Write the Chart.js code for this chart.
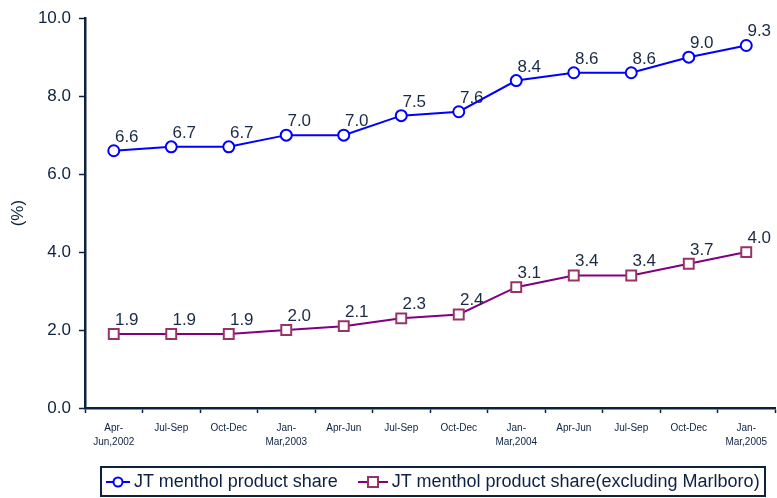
<!DOCTYPE html>
<html>
<head>
<meta charset="utf-8">
<script src="https://cdn.jsdelivr.net/npm/chart.js@4/dist/chart.umd.min.js"></script>
<style>
body{margin:0;background:#fff;font-family:Arial,"Liberation Sans",sans-serif;}
#caja{position:relative;width:777px;height:498px;overflow:hidden;}
#leyenda{position:absolute;left:100px;top:466px;width:666px;height:31px;border:2px solid #0d2240;white-space:nowrap;
  font-size:18px;color:#0d2240;display:flex;align-items:center;padding-left:4px;box-sizing:border-box;}
#leyenda span{margin-right:20px;display:flex;align-items:center;white-space:nowrap;flex:none;}
#leyenda svg{margin-right:4px;flex:none;}
</style>
</head>
<body>
<div id="caja">
<canvas id="myChart" width="784" height="498"></canvas>
<div id="leyenda">
  <span><svg width="24" height="14"><line x1="0" y1="7" x2="24" y2="7" stroke="#0000ff" stroke-width="2"/><circle cx="12" cy="7" r="4.5" fill="#fff" stroke="#0000ff" stroke-width="2"/></svg>JT menthol product share</span>
  <span><svg width="30" height="14"><line x1="0" y1="7" x2="30" y2="7" stroke="#800080" stroke-width="2"/><rect x="10" y="2" width="10" height="10" fill="#fff" stroke="#993366" stroke-width="2"/></svg>JT menthol product share(excluding Marlboro)</span>
</div>
</div>
<script>
const trimestres=[['Apr-','Jun,2002'],'Jul-Sep','Oct-Dec',['Jan-','Mar,2003'],'Apr-Jun','Jul-Sep','Oct-Dec',['Jan-','Mar,2004'],'Apr-Jun','Jul-Sep','Oct-Dec',['Jan-','Mar,2005']];
const cuotaJT=[6.6,6.7,6.7,7.0,7.0,7.5,7.6,8.4,8.6,8.6,9.0,9.3];
const cuotaSinMarlboro=[1.9,1.9,1.9,2.0,2.1,2.3,2.4,3.1,3.4,3.4,3.7,4.0];
const ticksY=[0,2,4,6,8,10];

const colorEje='#0d2240';
const fuente='Arial, "Liberation Sans", sans-serif';

const etiquetas={
    id:'etiquetas',
    afterDatasetsDraw(chart){
        const ctx=chart.ctx;
        ctx.save();
        ctx.font='17px '+fuente;
        ctx.fillStyle='#1a2a44';
        ctx.textAlign='center';
        ctx.textBaseline='alphabetic';
        chart.data.datasets.forEach((ds,i)=>{
            chart.getDatasetMeta(i).data.forEach((p,j)=>{
                ctx.fillText(ds.data[j].toFixed(1),p.x+13,p.y-9);
            });
        });
        ctx.restore();
    }
};

const data={
    labels: trimestres,
    datasets:[{
        label:'JT menthol product share',
        data:cuotaJT,
        borderColor:'#0000ff',
        borderWidth:2,
        pointStyle:'circle',
        pointRadius:5.5,
        pointBorderWidth:2,
        pointBackgroundColor:'#fff',
        pointBorderColor:'#0000ff',
        tension:0
    },{
        label:'JT menthol product share(excluding Marlboro)',
        data:cuotaSinMarlboro,
        borderColor:'#800080',
        borderWidth:2,
        pointStyle:'rect',
        pointRadius:7,
        pointBorderWidth:2,
        pointBackgroundColor:'#fff',
        pointBorderColor:'#993366',
        tension:0
    }]
};

const config={
    type:'line',
    data,
    options:{
        responsive:false,
        animation:false,
        layout:{padding:{top:11,right:2,left:0,bottom:40}},
        plugins:{legend:{display:false},tooltip:{enabled:false}},
        scales:{
            x:{
                offset:true,
                grid:{display:true,drawOnChartArea:false,offset:true,color:colorEje,tickLength:5,tickWidth:1.5},
                border:{color:colorEje,width:2.5},
                ticks:{color:colorEje,font:{size:10,family:fuente,lineHeight:1.4},maxRotation:0,autoSkip:false,padding:8},
                afterFit(s){s.height=50;}
            },
            y:{
                min:0,max:10,
                afterBuildTicks(s){s.ticks=ticksY.map(v=>({value:v}));},
                grid:{display:true,drawOnChartArea:false,color:colorEje,tickLength:6,tickWidth:1.5},
                border:{color:colorEje,width:2.5},
                ticks:{color:colorEje,font:{size:17,family:fuente},padding:8,callback:v=>v.toFixed(1)},
                title:{display:true,text:'(%)',color:colorEje,font:{size:17,family:fuente},padding:{top:8,bottom:0}},
                afterFit(s){s.width=85;}
            }
        }
    },
    plugins:[etiquetas]
};
const myChart=new Chart(document.getElementById('myChart'),config);
</script>
</body>
</html>
